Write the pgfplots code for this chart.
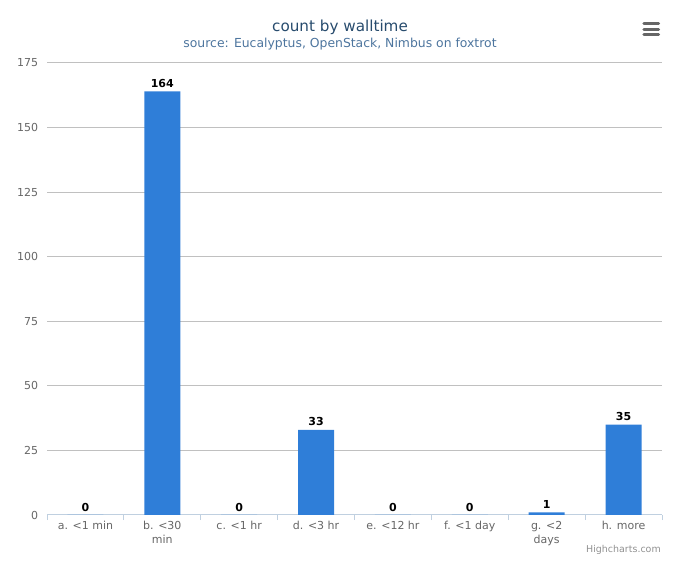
\documentclass[border=0pt]{standalone}
\usepackage{pgfplots}
\pgfplotsset{compat=1.18}
\usepackage{fontspec}
\setmainfont{DejaVu Sans}
\definecolor{barblue}{HTML}{2F7ED8}
\definecolor{titlec}{HTML}{274B6D}
\definecolor{subc}{HTML}{4D759E}
\definecolor{labc}{HTML}{666666}
\definecolor{gridc}{HTML}{C0C0C0}
\definecolor{axisc}{HTML}{C0D0E0}
\definecolor{credc}{HTML}{909090}
\begin{document}
\begin{tikzpicture}
\path[use as bounding box] (0,0) rectangle (510pt,424.5pt);
\node[font=\fontsize{11.4}{14}\selectfont, text=titlec] at (255pt,404.25pt) {count by walltime};
\node[font=\fontsize{9.3}{11}\selectfont, text=subc] at (255pt,391.5pt) {source: Eucalyptus, OpenStack, Nimbus on foxtrot};
\foreach \yy in {406.6,402.7,398.8} {
  \draw[labc, line width=2.2pt, line cap=round] (482.8pt,\yy pt) -- (494pt,\yy pt);
}
\node[font=\fontsize{7.1}{8}\selectfont, text=credc, anchor=east, inner sep=0pt] at (495.75pt,12pt) {Highcharts.com};
\begin{axis}[
  at={(35.25pt,38.25pt)}, anchor=south west,
  scale only axis, width=461.25pt, height=339pt,
  xmin=-0.5, xmax=7.5, ymin=0, ymax=175,
  ytick={0,25,...,175},
  xtick={0,...,7},
  xticklabels={{a. <1 min},{b. <30\\min},{c. <1 hr},{d. <3 hr},{e. <12 hr},{f. <1 day},{g. <2\\days},{h. more}},
  minor xtick={-0.5,0.5,...,7.5},
  tick align=outside,
  major tick length=0pt,
  minor tick length=3.75pt,
  minor tick style={draw=axisc, line width=0.75pt},
  axis x line*=bottom, axis y line*=left,
  x axis line style={draw=axisc, -, line width=0.75pt},
  y axis line style={draw=none},
  ymajorgrids, grid style={draw=gridc, line width=0.75pt},
  /pgf/number format/assume math mode=true,
  xticklabel style={font=\fontsize{8.25}{10.5}\selectfont, text=labc, align=center, inner sep=0pt, yshift=-4.5pt},
  yticklabel style={font=\fontsize{8.25}{10}\selectfont, text=labc, inner sep=0pt, xshift=-6.5pt},
  ybar, bar width=27pt, bar shift=0pt,
  nodes near coords,
  every node near coord/.append style={font=\fontsize{8.25}{10}\selectfont\bfseries, text=black, inner sep=2.6pt},
  clip=false,
]
\addplot[fill=barblue, draw=none] coordinates {(0,0) (1,164) (2,0) (3,33) (4,0) (5,0) (6,1) (7,35)};
\end{axis}
\end{tikzpicture}
\end{document}
